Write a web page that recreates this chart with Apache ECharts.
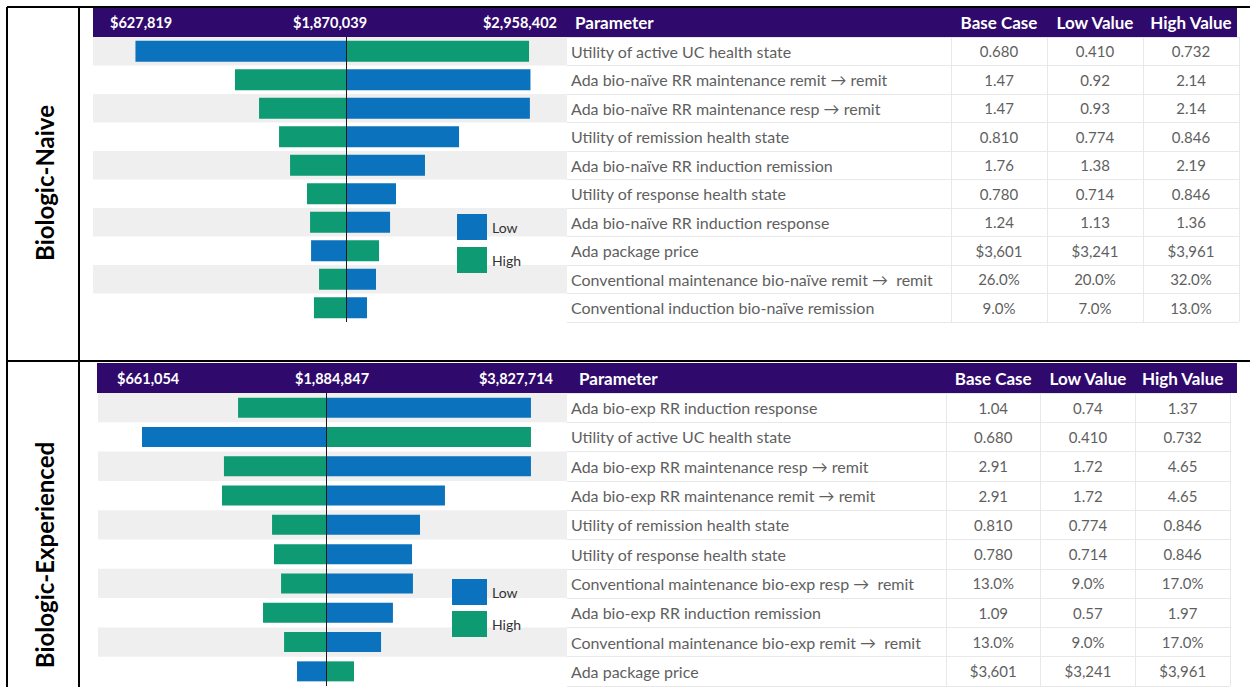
<!DOCTYPE html>
<html lang="en">
<head>
<meta charset="UTF-8">
<title>Tornado diagrams</title>
<script src="https://cdn.jsdelivr.net/npm/echarts@6/dist/echarts.min.js"></script>
</head>
<body style="margin: 0">
<div id="container" style="width: 1250px; height: 687px"></div>
<script>
// ---- Biologic-naive panel ----
const naiveParams = [
    'Utility of active UC health state',
    'Ada bio-naïve RR maintenance remit \u2192 remit',
    'Ada bio-naïve RR maintenance resp \u2192 remit',
    'Utility of remission health state',
    'Ada bio-naïve RR induction remission',
    'Utility of response health state',
    'Ada bio-naïve RR induction response',
    'Ada package price',
    'Conventional maintenance bio-naïve remit \u2192  remit',
    'Conventional induction bio-naïve remission'
];
const naiveBaseIcer = 1870039;
// ICER at the low value (blue) and at the high value (green)
const naiveLowIcer = [627819, 2958402, 2955000, 2537000, 2336000, 2165000, 2130000, 1664000, 2047000, 1994000];
const naiveHighIcer = [2950000, 1215000, 1357000, 1475000, 1540000, 1640000, 1658000, 2065000, 1711000, 1681000];
const naiveBaseCase = ['0.680', '1.47', '1.47', '0.810', '1.76', '0.780', '1.24', '$3,601', '26.0%', '9.0%'];
const naiveLowValue = ['0.410', '0.92', '0.93', '0.774', '1.38', '0.714', '1.13', '$3,241', '20.0%', '7.0%'];
const naiveHighValue = ['0.732', '2.14', '2.14', '0.846', '2.19', '0.846', '1.36', '$3,961', '32.0%', '13.0%'];
const naiveHeader = ['$627,819', '$1,870,039', '$2,958,402'];

// ---- Biologic-experienced panel ----
const expParams = [
    'Ada bio-exp RR induction response',
    'Utility of active UC health state',
    'Ada bio-exp RR maintenance resp \u2192 remit',
    'Ada bio-exp RR maintenance remit \u2192 remit',
    'Utility of remission health state',
    'Utility of response health state',
    'Conventional maintenance bio-exp resp \u2192  remit',
    'Ada bio-exp RR induction remission',
    'Conventional maintenance bio-exp remit \u2192  remit',
    'Ada package price'
];
const expBaseIcer = 1884847;
const expLowIcer = [3248000, 661054, 3248000, 2676000, 2510000, 2457000, 2463000, 2330000, 2251000, 1692000];
const expHighIcer = [1300000, 3248000, 1206000, 1193000, 1526000, 1539000, 1586000, 1466000, 1606000, 2071000];
const expBaseCase = ['1.04', '0.680', '2.91', '2.91', '0.810', '0.780', '13.0%', '1.09', '13.0%', '$3,601'];
const expLowValue = ['0.74', '0.410', '1.72', '1.72', '0.774', '0.714', '9.0%', '0.57', '9.0%', '$3,241'];
const expHighValue = ['1.37', '0.732', '4.65', '4.65', '0.846', '0.846', '17.0%', '1.97', '17.0%', '$3,961'];
const expHeader = ['$661,054', '$1,884,847', '$3,827,714'];

const columnHeaders = ['Parameter', 'Base Case', 'Low Value', 'High Value'];
const panelTitles = ['Biologic-Naive', 'Biologic-Experienced'];

const BLUE = '#0b72bd';
const GREEN = '#0e9a73';
const PURPLE = '#2f0a6c';
const TEXT = '#5f5f5f';
const FONT = 'Lato, "Noto Sans", sans-serif';

const chart = echarts.init(document.getElementById('container'), null, {renderer: 'svg'});

// layout of the two panels
const panels = [
    {
        params: naiveParams, base: naiveBaseIcer, low: naiveLowIcer, high: naiveHighIcer,
        cols: [naiveBaseCase, naiveLowValue, naiveHighValue], header: naiveHeader,
        barGrid: {left: 93, top: 37, width: 474, height: 285},
        tableGrid: {left: 567, top: 37, width: 672, height: 285},
        min: 377339, max: 3173939, barWidth: 21,
        headTop: 8, headH: 29, headLeft: 93, headX: [110, 330, 557], paramX: 575
    },
    {
        params: expParams, base: expBaseIcer, low: expLowIcer, high: expHighIcer,
        cols: [expBaseCase, expLowValue, expHighValue], header: expHeader,
        barGrid: {left: 98, top: 393, width: 469, height: 293},
        tableGrid: {left: 567, top: 393, width: 663, height: 293},
        min: 368419, max: 3487738, barWidth: 20,
        headTop: 363, headH: 30, headLeft: 97, headX: [117, 332, 553], paramX: 579
    }
];

const grid = [], xAxis = [], yAxis = [], series = [], graphic = [];

panels.forEach(function (p, k) {
    const gBar = grid.length;
    grid.push(p.barGrid);
    grid.push(p.tableGrid);
    const gTab = gBar + 1;

    // tornado axes
    const xBar = xAxis.length;
    xAxis.push({
        type: 'value', gridIndex: gBar, min: p.min, max: p.max,
        axisLine: {show: false}, axisTick: {show: false}, axisLabel: {show: false}, splitLine: {show: false}
    });
    const yBar = yAxis.length;
    yAxis.push({
        type: 'category', gridIndex: gBar, inverse: true, data: p.params,
        axisLine: {show: false}, axisTick: {show: false}, axisLabel: {show: false},
        splitArea: {show: true, areaStyle: {color: ['#efefef', 'rgba(255,255,255,0)']}}
    });

    // table axes
    const colW = p.tableGrid.width / 7;
    const xTab = xAxis.length;
    xAxis.push({
        type: 'category', gridIndex: gTab, position: 'top',
        data: ['p1', 'p2', 'p3', 'p4'].concat(columnHeaders.slice(1)),
        axisLine: {show: false}, axisTick: {show: false},
        axisLabel: {
            interval: 0, margin: 6, color: '#fff', fontWeight: 'bold', fontSize: 17, fontFamily: FONT,
            formatter: function (v, i) { return i >= 4 ? v : ''; }
        },
        splitLine: {show: true, interval: function (i) { return i >= 4; }, lineStyle: {color: '#e8e8e8'}}
    });
    const yParam = yAxis.length;
    yAxis.push({
        type: 'category', gridIndex: gTab, inverse: true, data: p.params,
        axisLine: {show: false}, axisTick: {show: false},
        axisLabel: {inside: true, margin: 4, color: TEXT, fontSize: 16, fontFamily: FONT},
        splitLine: {show: true, lineStyle: {color: '#e8e8e8'}}
    });
    p.cols.forEach(function (col, c) {
        yAxis.push({
            type: 'category', gridIndex: gTab, inverse: true, data: p.params,
            position: 'left', offset: -colW * (4.5 + c),
            axisLine: {show: false}, axisTick: {show: false}, splitLine: {show: false},
            axisLabel: {
                align: 'center', margin: 0, color: TEXT, fontSize: 15, fontFamily: FONT,
                formatter: function (v, i) { return col[i]; }
            }
        });
    });

    // bars: transparent padding up to the bar start, then the bar itself
    const lowStart = p.low.map(function (v) { return Math.min(v, p.base); });
    const lowLen = p.low.map(function (v) { return Math.abs(v - p.base); });
    const highStart = p.high.map(function (v) { return Math.min(v, p.base); });
    const highLen = p.high.map(function (v) { return Math.abs(v - p.base); });
    const common = {type: 'bar', xAxisIndex: xBar, yAxisIndex: yBar, barWidth: p.barWidth, barGap: '-100%', animation: false};
    series.push(Object.assign({}, common, {
        name: 'padL' + k, stack: 'L' + k, data: lowStart, silent: true,
        itemStyle: {color: 'rgba(0,0,0,0)'},
        markLine: {
            silent: true, symbol: 'none', label: {show: false}, animation: false,
            lineStyle: {color: '#1a1a1a', width: 1, type: 'solid'},
            data: [{xAxis: p.base}]
        }
    }));
    series.push(Object.assign({}, common, {name: 'Low', stack: 'L' + k, data: lowLen, itemStyle: {color: BLUE}}));
    series.push(Object.assign({}, common, {
        name: 'padH' + k, stack: 'H' + k, data: highStart, silent: true, itemStyle: {color: 'rgba(0,0,0,0)'}
    }));
    series.push(Object.assign({}, common, {name: 'High', stack: 'H' + k, data: highLen, itemStyle: {color: GREEN}}));
    series.push({type: 'scatter', xAxisIndex: xTab, yAxisIndex: yParam, data: [], silent: true});

    // purple header band with the ICER range and "Parameter"
    graphic.push({
        type: 'rect', z: -1,
        shape: {x: p.headLeft, y: p.headTop, width: 1237 - p.headLeft, height: p.headH},
        style: {fill: PURPLE}
    });
    const aligns = ['left', 'center', 'right'];
    p.header.forEach(function (t, i) {
        graphic.push({
            type: 'text', x: p.headX[i], y: p.headTop + p.headH / 2,
            style: {text: t, fill: '#fff', font: 'bold 14.5px ' + FONT, align: aligns[i], verticalAlign: 'middle'}
        });
    });
    graphic.push({
        type: 'text', x: p.paramX, y: p.headTop + p.headH / 2,
        style: {text: columnHeaders[0], fill: '#fff', font: 'bold 17px ' + FONT, align: 'left', verticalAlign: 'middle'}
    });
});

// outer table frame and row titles
[[7, 7, 1250, 7], [7, 7, 7, 687], [79, 7, 79, 687], [7, 361, 1250, 361]].forEach(function (l) {
    graphic.push({
        type: 'line', shape: {x1: l[0], y1: l[1], x2: l[2], y2: l[3]},
        style: {stroke: '#000', lineWidth: 2}
    });
});
[183, 555].forEach(function (cy, i) {
    graphic.push({
        type: 'text', x: 44, y: cy, rotation: Math.PI / 2,
        style: {text: panelTitles[i], fill: '#000', font: 'bold 24px ' + FONT, align: 'center', verticalAlign: 'middle'}
    });
});

const legendBase = {
    data: ['Low', 'High'], orient: 'vertical', icon: 'rect', selectedMode: false,
    itemHeight: 26, textStyle: {color: '#333', fontSize: 14, fontFamily: FONT}
};

chart.setOption({
    animation: false,
    grid: grid,
    xAxis: xAxis,
    yAxis: yAxis,
    legend: [
        Object.assign({}, legendBase, {left: 452, top: 209, itemWidth: 30, itemGap: 7}),
        Object.assign({}, legendBase, {left: 447, top: 574, itemWidth: 35, itemGap: 6})
    ],
    series: series,
    graphic: graphic
});
</script>
</body>
</html>
